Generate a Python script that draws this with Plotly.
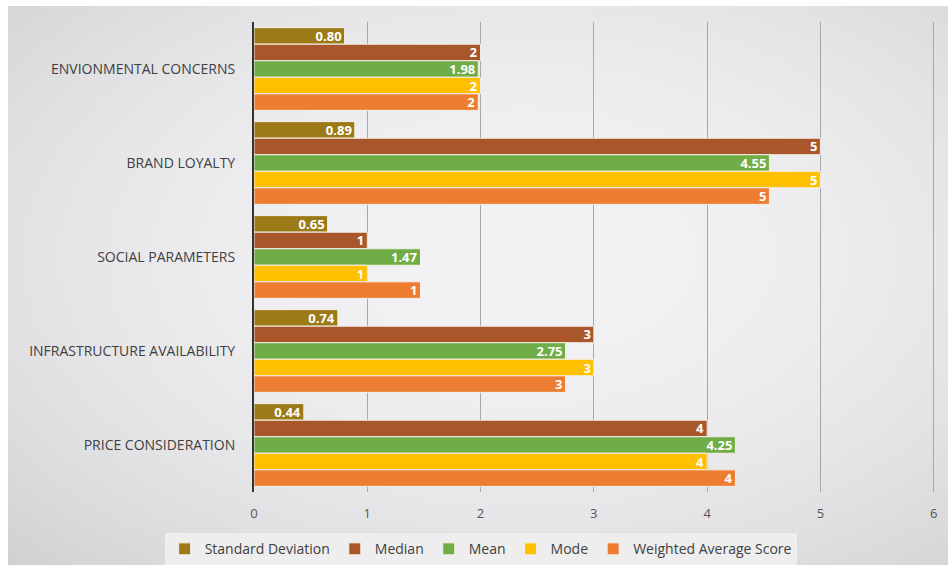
import base64
import struct
import zlib

import plotly.graph_objects as go

categories = [
    "ENVIONMENTAL CONCERNS",
    "BRAND LOYALTY",
    "SOCIAL PARAMETERS",
    "INFRASTRUCTURE AVAILABILITY",
    "PRICE CONSIDERATION",
]
std_dev = [0.80, 0.89, 0.65, 0.74, 0.44]
median = [2, 5, 1, 3, 4]
mean = [1.98, 4.55, 1.47, 2.75, 4.25]
mode = [2, 5, 1, 3, 4]
weighted_avg = [1.98, 4.55, 1.47, 2.75, 4.25]
x_ticks = [0, 1, 2, 3, 4, 5, 6]

series = [
    ("Standard Deviation", std_dev, "#9C7A17", "%{x:.2f}"),
    ("Median", median, "#A9572A", "%{x:.0f}"),
    ("Mean", mean, "#70AD47", "%{x:.2f}"),
    ("Mode", mode, "#FFC000", "%{x:.0f}"),
    ("Weighted Average Score", weighted_avg, "#ED7D31", "%{x:.0f}"),
]

W, H = 948, 565
ML, MR, MT, MB = 254, 3, 22, 73
PW, PH = W - ML - MR, H - MT - MB


def gradient_png(w, h):
    """Soft radial grey background: light centre, darker corners."""
    rows = []
    cx, cy = 0.55 * w, 0.45 * h
    rx, ry = 0.62 * w, 0.62 * h
    for j in range(h):
        row = bytearray([0])
        for i in range(w):
            d2 = ((i - cx) / rx) ** 2 + ((j - cy) / ry) ** 2
            v = int(max(196, min(243, 243 - 22 * d2)))
            row += bytes([v, v, min(255, v + 2)])
        rows.append(bytes(row))
    raw = b"".join(rows)

    def chunk(tag, data):
        c = struct.pack(">I", len(data)) + tag + data
        return c + struct.pack(">I", zlib.crc32(tag + data) & 0xFFFFFFFF)

    png = b"\x89PNG\r\n\x1a\n"
    png += chunk(b"IHDR", struct.pack(">IIBBBBB", w, h, 8, 2, 0, 0, 0))
    png += chunk(b"IDAT", zlib.compress(raw, 9))
    png += chunk(b"IEND", b"")
    return "data:image/png;base64," + base64.b64encode(png).decode()


fig = go.Figure()
for name, vals, color, tmpl in series:
    fig.add_trace(go.Bar(
        name=name,
        y=categories,
        x=vals,
        orientation="h",
        marker=dict(color=color, line=dict(color="#f4f0ea", width=1)),
        texttemplate=tmpl,
        textposition="inside",
        insidetextanchor="end",
        textangle=0,
        constraintext="none",
        textfont=dict(color="white", size=13, family="Open Sans", weight="bold"),
        hoverinfo="skip",
    ))

# background gradient covering the whole page
fig.add_layout_image(
    source=gradient_png(190, 113),
    xref="paper", yref="paper",
    x=-ML / PW, y=1 + MT / PH,
    sizex=W / PW, sizey=H / PH,
    xanchor="left", yanchor="top",
    sizing="stretch", layer="below",
)

# white strips along the top and left edges
fig.add_shape(type="rect", xref="paper", yref="paper", layer="below",
              x0=-ML / PW, x1=1 + MR / PW, y0=1 + (MT - 6) / PH, y1=1 + MT / PH,
              fillcolor="white", line=dict(width=0))
fig.add_shape(type="rect", xref="paper", yref="paper", layer="below",
              x0=-ML / PW, x1=-(ML - 8) / PW, y0=-MB / PH, y1=1 + MT / PH,
              fillcolor="white", line=dict(width=0))

fig.update_layout(
    width=W,
    height=H,
    barmode="group",
    bargap=0.12,
    bargroupgap=0,
    paper_bgcolor="#e6e6e6",
    plot_bgcolor="rgba(0,0,0,0)",
    margin=dict(l=ML, r=MR, t=MT, b=MB),
    font=dict(family="Open Sans", color="#404040"),
    xaxis=dict(
        range=[0, 6.1],
        tickvals=x_ticks,
        showgrid=True,
        gridcolor="#a8a8a8",
        gridwidth=1,
        zeroline=False,
        showline=False,
        tickfont=dict(size=13, color="#555555"),
        ticks="",
        ticklabelstandoff=12,
    ),
    yaxis=dict(
        categoryorder="array",
        categoryarray=categories,
        autorange="reversed",
        showline=True,
        linecolor="#333333",
        linewidth=2,
        ticks="",
        ticklabelstandoff=14,
        tickfont=dict(size=14, color="#404040"),
    ),
    legend=dict(
        orientation="h",
        x=0.328,
        xanchor="center",
        yref="container",
        y=0.058,
        yanchor="top",
        bgcolor="#eeeeee",
        bordercolor="#dddddd",
        borderwidth=1,
        font=dict(size=14, color="#404040"),
        itemwidth=30,
    ),
    showlegend=True,
)

fig.write_html("out.html")
